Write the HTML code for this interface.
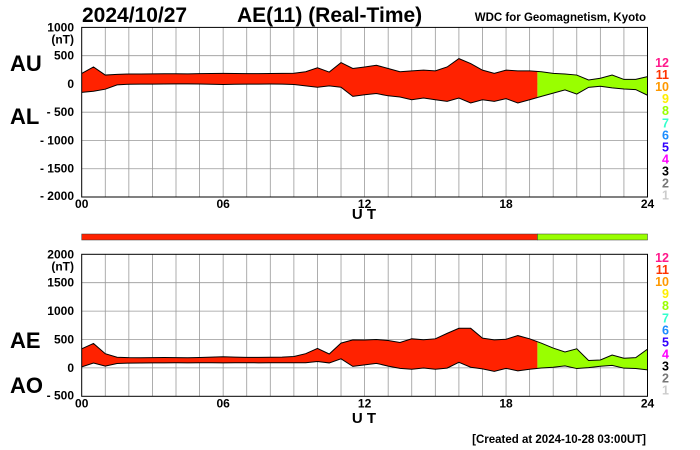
<!DOCTYPE html>
<html><head><meta charset="utf-8"><style>
body{margin:0;background:#fff;}
svg{display:block;font-family:"Liberation Sans",Arial,sans-serif;}
</style></head><body>
<svg id="c" width="700" height="450" viewBox="0 0 700 450">
<text x="82" y="22" font-size="21" font-weight="bold">2024/10/27</text>
<text x="237" y="22" font-size="21" font-weight="bold">AE(11) (Real-Time)</text>
<text x="646" y="21" font-size="11.5" font-weight="bold" text-anchor="end">WDC for Geomagnetism, Kyoto</text>
<text x="10" y="71" font-size="22" font-weight="bold">AU</text>
<text x="10" y="124" font-size="22" font-weight="bold">AL</text>
<text x="10" y="348" font-size="22" font-weight="bold">AE</text>
<text x="10" y="393" font-size="22" font-weight="bold">AO</text>
<text x="364" y="219" font-size="15" font-weight="bold" text-anchor="middle">U T</text>
<text x="364" y="423" font-size="15" font-weight="bold" text-anchor="middle">U T</text>
<text x="646" y="443" font-size="11.5" font-weight="bold" text-anchor="end">[Created at 2024-10-28 03:00UT]</text>
<g id="g"></g>
</svg>
<script>
const hours=[0,0.5,1,1.5,2,2.5,3,3.5,4,4.5,5,5.5,6,6.5,7,7.5,8,8.5,9,9.5,10,10.5,11,11.5,12,12.5,13,13.5,14,14.5,15,15.5,16,16.5,17,17.5,18,18.5,19,19.5,20,20.5,21,21.5,22,22.5,23,23.5,24];
const au=[186,300,157,170,175,175,178,180,180,178,182,185,186,185,183,182,185,186,190,215,285,210,378,273,300,330,273,215,232,245,232,300,448,360,244,186,244,232,232,215,186,175,157,70,100,157,80,80,130];
const al=[-150,-130,-93,-17,-5,-3,-3,-2,0,0,-2,-5,-10,-5,-3,-3,-2,-3,-10,-35,-58,-35,-58,-220,-192,-170,-210,-232,-280,-250,-280,-308,-250,-337,-280,-308,-260,-337,-280,-220,-163,-105,-180,-60,-40,-70,-90,-100,-200];
const ae=au.map((v,i)=>v-al[i]);
const ao=au.map((v,i)=>(v+al[i])/2);
const topTicks=["1000","500","0","- 500","- 1000","- 1500","- 2000"];
const topTickVals=[1000,500,0,-500,-1000,-1500,-2000];
const botTicks=["2000","1500","1000","500","0","- 500"];
const botTickVals=[2000,1500,1000,500,0,-500];
const xLabels=["00","06","12","18","24"];
const xLabelHours=[0,6,12,18,24];
const levels=["12","11","10","9","8","7","6","5","4","3","2","1"];
const levelColors=["#ff1a8c","#ff3300","#ff9900","#ffee00","#99ff00","#33ffcc","#1a8cff","#3300ff","#ff00ff","#000000","#777777","#cccccc"];
const splitHour=19.33;
const NS="http://www.w3.org/2000/svg";
const g=document.getElementById('g');
const X0=81.7,X1=647.5;
const x=h=>X0+(X1-X0)*h/24;
function mk(t,a,p){const e=document.createElementNS(NS,t);for(const k in a)e.setAttribute(k,a[k]);(p||g).appendChild(e);return e;}
function panel(top,bot,maxV,minV,upper,lower,ticks,tickVals,id,legTop){
  const y=v=>top+(maxV-v)/(maxV-minV)*(bot-top);
  for(let h=1;h<24;h++){const l=mk('line',{x1:x(h),x2:x(h),y1:top,y2:bot,stroke:'#999','stroke-width':0.8});
    
    }
  tickVals.forEach((v,i)=>{
    if(v!==maxV&&v!==minV){const l=mk('line',{x1:X0,x2:X1,y1:y(v),y2:y(v),stroke:'#999','stroke-width':0.8});
      
      }
    const t=mk('text',{x:74,y:y(v)+(i===tickVals.length-1?3:4),'font-size':12,'font-weight':'bold','text-anchor':'end'});
    t.textContent=ticks[i];
    
    
  });
  const nt=mk('text',{x:74,y:y(maxV)+16,'font-size':12,'font-weight':'bold','text-anchor':'end'});nt.textContent='(nT)';
  
  
  let pts=hours.map((h,i)=>x(h)+','+y(upper[i]));
  let pts2=hours.map((h,i)=>x(h)+','+y(lower[i])).reverse();
  const defs=mk('defs',{});
  const c1=mk('clipPath',{id:id+'a'},defs);mk('rect',{x:X0,y:top,width:x(splitHour)-X0,height:bot-top},c1);
  const c2=mk('clipPath',{id:id+'b'},defs);mk('rect',{x:x(splitHour),y:top,width:X1-x(splitHour),height:bot-top},c2);
  const poly=pts.concat(pts2).join(' ');
  const f1=mk('polygon',{points:poly,fill:'#ff2200','clip-path':'url(#'+id+'a)'});
  
  
  const f2=mk('polygon',{points:poly,fill:'#99ff00','clip-path':'url(#'+id+'b)'});
  
  
  const l1=mk('polyline',{points:pts.join(' '),fill:'none',stroke:'#000','stroke-width':1});
  
  
  const l2=mk('polyline',{points:pts2.join(' '),fill:'none',stroke:'#000','stroke-width':1});
  
  
  const fr=mk('rect',{x:X0,y:top,width:X1-X0,height:bot-top,fill:'none',stroke:'#000','stroke-width':1});
  
  
  xLabelHours.forEach((h,i)=>{const t=mk('text',{x:x(h),y:bot+11,'font-size':12,'font-weight':'bold','text-anchor':'middle'});t.textContent=xLabels[i];
    
    });
  levels.forEach((s,i)=>{const t=mk('text',{x:669,y:legTop+i*12.05,'font-size':12.5,'font-weight':'bold','text-anchor':'end',fill:levelColors[i]});t.textContent=s;
    
    });
}
panel(27.4,197,1000,-2000,au,al,topTicks,topTickVals,'p1',67);
panel(254.3,396.3,2000,-500,ae,ao,botTicks,botTickVals,'p2',262);
const b1=mk('rect',{x:X0,y:234,width:x(splitHour)-X0,height:6,fill:'#ff2200',stroke:'#333','stroke-width':0.5});


const b2=mk('rect',{x:x(splitHour),y:234,width:X1-x(splitHour),height:6,fill:'#99ff00',stroke:'#333','stroke-width':0.5});


</script>
</body></html>
